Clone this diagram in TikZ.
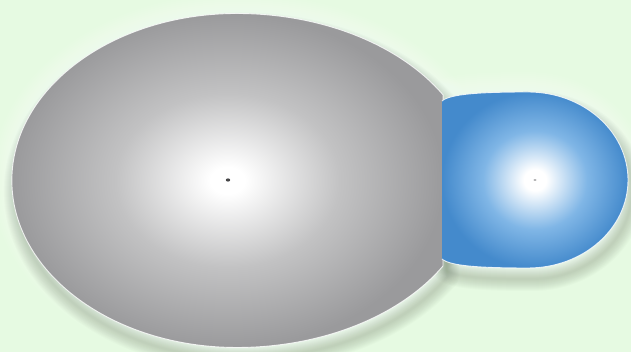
\documentclass[tikz,border=0pt]{standalone}
\usetikzlibrary{calc}

\definecolor{bggreen}{RGB}{230,250,226}
\definecolor{ballgray}{RGB}{154,154,156}
\definecolor{midgray}{RGB}{194,194,195}
\definecolor{ballblue}{RGB}{68,138,204}
\definecolor{midblue}{RGB}{128,182,230}
\definecolor{shadowgreen}{RGB}{80,100,70}
\definecolor{dotgray}{RGB}{70,70,72}

\pgfdeclareradialshading{grayball}{\pgfpoint{0bp}{0bp}}{color(0bp)=(white); color(2bp)=(white); color(13bp)=(midgray); color(25bp)=(ballgray); color(50bp)=(ballgray)}
\pgfdeclareradialshading{blueball}{\pgfpoint{0bp}{0bp}}{color(0bp)=(white); color(3bp)=(white); color(14bp)=(midblue); color(25bp)=(ballblue); color(50bp)=(ballblue)}

% outlines of the two lobes (pt units, y up)
\newcommand{\grayshape}{(237,338.5) arc[start angle=90, end angle=30.8, x radius=240, y radius=167] -- (443,86) arc[start angle=-30.8, end angle=-90, x radius=240, y radius=167] arc[start angle=-90, end angle=-270, x radius=225, y radius=167] -- cycle}
\newcommand{\blueshape}{(442,251) .. controls (450,258) and (480,260) .. (528,260) arc[start angle=90, end angle=-90, x radius=100, y radius=88] .. controls (480,84) and (450,86) .. (442,93)}

\begin{document}
\begin{tikzpicture}[
    x=1pt, y=1pt,
    glowline/.style={draw=white, opacity=0.05, line join=round},
    shadowline/.style={draw=shadowgreen, opacity=0.024, line join=round},
    outline/.style={draw=white, draw opacity=0.8, line width=0.9pt},
    centredot/.style={fill=dotgray},
]

\fill[bggreen] (0,0) rectangle (631,352);
\useasboundingbox (0,0) rectangle (631,352);

\coordinate (graycentre) at (228,172);
\coordinate (bluecentre) at (535,172);

% soft light halo
\foreach \w in {4,8,...,40}{
    \path[glowline, line width=\w pt] \grayshape;
    \path[glowline, line width=\w pt] \blueshape -- cycle;
}

% soft shadow, down and right
\begin{scope}[shift={(4,-11)}]
\foreach \w in {2,4,...,24}{
    \path[shadowline, line width=\w pt] \grayshape;
    \path[shadowline, line width=\w pt] \blueshape -- cycle;
}
\end{scope}

\path[shading=grayball, outline] \grayshape;
\path[shading=blueball] \blueshape;
\path[outline] \blueshape;

\fill[centredot] (graycentre) circle[x radius=2.2, y radius=1.6];
\fill[centredot, opacity=0.6] (bluecentre) circle[x radius=1.6, y radius=0.8];

\end{tikzpicture}
\end{document}
